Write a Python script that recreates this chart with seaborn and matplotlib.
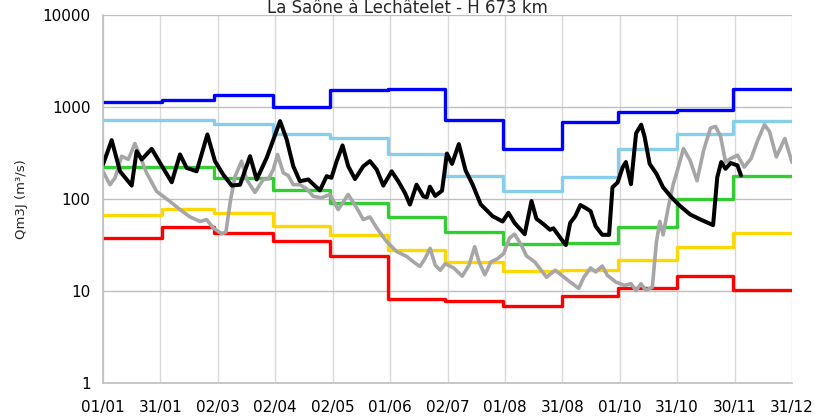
import numpy as np
import pandas as pd
import matplotlib
matplotlib.use("Agg")
import matplotlib.pyplot as plt
import seaborn as sns

# ---- data ----
title = "La Saône à Lechâtelet - H 673 km"
tick_labels = ["01/01", "31/01", "02/03", "02/04", "02/05", "01/06", "02/07",
               "01/08", "31/08", "01/10", "31/10", "30/11", "31/12"]
month_start = [0, 31, 59, 90, 120, 151, 181, 212, 243, 273, 304, 334]
year_end = 365

q_blue = [1143, 1180, 1337, 998, 1517, 1555, 714, 351, 685, 889, 918, 1555]
q_lightblue = [720, 720, 658, 515, 455, 305, 180, 121, 173, 351, 503, 703]
q_green = [224, 224, 170, 124, 90.6, 63.8, 43.4, 32.6, 33, 49.2, 100, 180]
q_yellow = [66.5, 78.6, 70.5, 50.5, 40.2, 27.6, 20.5, 16.6, 17, 21.5, 29.8, 42.7]
q_red = [37.7, 49.2, 42.7, 35.2, 23.8, 8.2, 7.7, 6.9, 8.9, 10.7, 14.4, 10.3]

black_day = [0, 4.6, 9, 15.2, 17.8, 20.5, 25.8, 30.2, 36.4, 40.8, 44.3, 49.6, 55.3,
             59.3, 63.7, 68.2, 72.6, 77.9, 81.4, 86.7, 89.3, 93.8, 97.3, 100.8,
             104.3, 108.7, 114.9, 118.5, 121, 123.8, 126.9, 129.9, 133.5, 137.9,
             141.4, 145, 148.5, 152.9, 156.4, 160, 162.6, 166.1, 169.7, 171.5,
             173.2, 176, 179.6, 182.2, 184.9, 188.5, 192.1, 195.7, 200.1, 206.4,
             211.7, 214.8, 218, 223.4, 227, 229.6, 233.2, 236.8, 238.6, 242.2,
             245.2, 247.5, 250.2, 252.9, 255.6, 258.3, 261, 264.5, 268.1, 269.9,
             272.6, 275.3, 277, 279.7, 282.4, 285.1, 286.9, 289.6, 293.2, 296.7,
             301.2, 305.7, 311, 316.4, 323.2, 325.4, 327.5, 329.8, 332.5, 336.1, 338]
black_q = [237, 436, 200, 140, 331, 269, 351, 247, 152, 305, 218, 200, 503,
           258, 184, 140, 143, 292, 163, 280, 391, 702, 444, 227,
           156, 163, 124, 177, 170, 258, 382, 227, 165, 227,
           258, 209, 140, 200, 156, 116, 87, 143, 107, 104,
           136, 108, 123, 312, 241, 395, 204, 145, 87.5, 65,
           57, 70.8, 55, 41.5, 95, 61, 53.6, 46.3, 48, 38,
           31.6, 55, 65, 86, 80, 73.8, 50.5, 40.8, 40.8, 134,
           151, 222, 252, 145, 518, 642, 476, 241, 188, 134,
           104, 84, 68, 60, 52, 172, 252, 213, 246, 232, 180]

gray_day = [0, 3.7, 6.4, 9.9, 13.4, 16.9, 19.6, 23.1, 28.4, 35.5, 40.8, 46.1,
            51.4, 54.9, 58.4, 62.9, 65.1, 67.6, 69.9, 73.4, 76.1, 80.5, 84.9,
            87.6, 90.2, 92.5, 95.5, 98.1, 100.8, 104.3, 107.9, 111.4, 115.8,
            120.2, 124.6, 129.9, 134.4, 137.9, 141.4, 145, 150.2, 155.5, 160.8,
            165.3, 167.9, 170.6, 173.3, 176, 178.6, 181.3, 185.8, 190.3, 193.9,
            196.9, 199.2, 202.3, 205.5, 209.1, 212.3, 215.3, 218, 221.6, 224.3,
            228.7, 235, 239.5, 243, 247.5, 252, 254.7, 258.3, 261, 264.5, 267.2,
            271.7, 276.2, 279.7, 282.4, 285, 287.5, 291, 293.2, 295, 296.7, 299.4,
            302.1, 304.8, 307.5, 311, 314.7, 318.2, 321.8, 324.5, 327.2, 329.8,
            332.5, 336.1, 339.7, 343.3, 346.9, 350.4, 353.1, 356.7, 361.2, 365]
gray_q = [200, 143, 170, 292, 269, 401, 292, 192, 121, 94, 76.7, 63.8,
          57, 59.7, 48.4, 42, 43.6, 98.5, 174, 258, 163, 118, 163,
          165, 209, 305, 192, 180, 143, 143, 129, 107, 103,
          112, 76.7, 112, 80, 59.7, 63.8, 48.4, 34.6, 26.9, 23.8,
          20.1, 18.5, 22.5, 29.1, 19.1, 16.8, 19.8, 17.8, 14.5, 19.1,
          30.3, 20.7, 15, 20.7, 22.5, 25.6, 37.5, 41.5, 31.6, 24.1,
          20.7, 14.1, 16.8, 14.8, 12.5, 10.7, 14.1, 17.8, 16.1, 18.7, 14.8,
          12.5, 11.5, 12, 10.1, 12, 10.2, 11, 34.4, 57, 40.8, 80,
          145, 222, 354, 263, 158, 339, 589, 615, 476, 252,
          275, 299, 222, 275, 438, 642, 541, 287, 455, 250]

# ---- style ----
sns.set_style("white")
plt.rcParams['font.family'] = ['DejaVu Sans']

fig = plt.figure(figsize=(8.15, 4.18), dpi=100)
ax = fig.add_axes([103/815, 1-383/418, (792-103)/815, (383-15)/418])

def steps(vals):
    return pd.DataFrame({"day": month_start + [year_end], "q": list(vals) + [vals[-1]]})

step_series = [(q_blue, "#0000FF"), (q_lightblue, "#87CEEB"), (q_green, "#33CC33"),
               (q_yellow, "#FFD700"), (q_red, "#FF0000")]
for vals, col in step_series:
    d = steps(vals)
    sns.lineplot(data=d, x="day", y="q", color=col, linewidth=2.4,
                 drawstyle="steps-post", ax=ax, estimator=None, sort=False)

sns.lineplot(x=gray_day, y=gray_q, color="#A6A6A6", linewidth=2.6, ax=ax,
             estimator=None, sort=False)
sns.lineplot(x=black_day, y=black_q, color="#000000", linewidth=2.9, ax=ax,
             estimator=None, sort=False)

ax.set_yscale("log")
ax.set_ylim(1, 10000)
ax.set_xlim(0, year_end)
ax.set_yticks([1, 10, 100, 1000, 10000])
ax.set_yticklabels(["1", "10", "100", "1000", "10000"])
ax.minorticks_off()
ax.set_xticks(np.linspace(0, year_end, len(tick_labels)))
ax.set_xticklabels(tick_labels)
ax.tick_params(axis="x", length=0, pad=12, labelsize=11, colors="black")
ax.tick_params(axis="y", length=0, pad=9, labelsize=11, colors="black")
ax.set_xlabel("")
ax.set_ylabel("")

ax.xaxis.grid(True, color="#D9D9D9", linewidth=1)
ax.yaxis.grid(True, color="#BFBFBF", linewidth=1)
ax.set_axisbelow(True)
for s in ["top", "right"]:
    ax.spines[s].set_visible(False)
for s in ["left", "bottom"]:
    ax.spines[s].set_color("#BFBFBF")
    ax.spines[s].set_linewidth(1.2)

fig.text(22/815, 1-199/418, "Qm3J (m³/s)", rotation=90, ha="center", va="center",
         fontsize=9.5)
fig.text(407/815, 1-13/418, title, ha="center", va="baseline", fontsize=12)

fig.savefig("out.png", dpi=100)
